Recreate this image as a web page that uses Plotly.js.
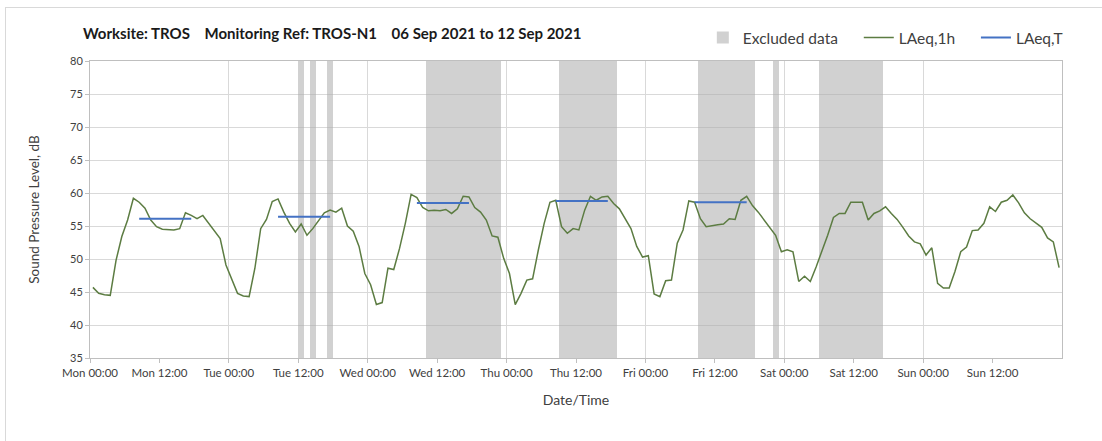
<!DOCTYPE html>
<html>
<head>
<meta charset="utf-8">
<script src="https://cdn.plot.ly/plotly-3.0.1.min.js"></script>
<style>
  body { margin: 0; background: #fff; }
  #wrap { position: relative; width: 1102px; height: 441px; }
  #chart { width: 1102px; height: 441px; }
  #frame { position: absolute; left: 5px; top: 7px; right: 0; bottom: 0;
           border-top: 1px solid #d9d9d9; border-left: 1px solid #d9d9d9; pointer-events: none; }
</style>
</head>
<body>
<div id="wrap">
  <div id="chart"></div>
  <div id="frame"></div>
</div>
<script>
// LAeq,1h hourly levels (dB), Mon 06 Sep 00:00 .. Sun 12 Sep 23:00
const laeq1h = [
    45.7, 44.8, 44.6, 44.5, 49.8, 53.4, 55.9, 59.2, 58.6, 57.7, 55.9, 54.9, 54.5, 54.5, 54.4, 54.6, 57.0, 56.6, 56.1, 56.6, 55.4, 54.2, 53.1, 49.1,
    46.8, 44.8, 44.4, 44.3, 48.6, 54.6, 56.0, 58.7, 59.1, 57.1, 55.4, 54.1, 55.3, 53.6, 54.6, 55.9, 57.0, 57.4, 57.1, 57.7, 55.0, 54.2, 51.9, 47.8,
    46.1, 43.1, 43.4, 48.6, 48.4, 51.6, 55.4, 59.8, 59.3, 57.8, 57.3, 57.4, 57.3, 57.5, 56.9, 57.6, 59.5, 59.4, 57.8, 57.1, 55.9, 53.5, 53.3, 50.1,
    47.8, 43.1, 44.8, 46.8, 47.0, 51.4, 55.4, 58.6, 58.9, 54.9, 53.9, 54.6, 54.4, 57.4, 59.5, 58.9, 59.4, 59.5, 58.4, 57.6, 56.1, 54.6, 51.9, 50.3,
    50.5, 44.7, 44.3, 46.7, 46.8, 52.4, 54.4, 58.8, 58.6, 56.1, 54.9, 55.1, 55.2, 55.3, 56.1, 56.0, 58.9, 59.5, 58.1, 57.1, 55.9, 54.8, 53.6, 51.1,
    51.4, 51.1, 46.6, 47.4, 46.6, 48.8, 51.1, 53.6, 56.3, 56.9, 56.9, 58.6, 58.6, 58.6, 55.9, 56.9, 57.3, 57.9, 56.9, 56.0, 54.8, 53.5, 52.6, 52.3,
    50.6, 51.7, 46.3, 45.6, 45.6, 48.1, 51.1, 51.8, 54.3, 54.4, 55.4, 57.9, 57.2, 58.6, 58.9, 59.7, 58.5, 57.0, 56.1, 55.5, 54.8, 53.2, 52.6, 48.7
];

// LAeq,T over the working day (08:00-18:00), Mon..Fri
const laeqTStart = ["2021-09-06 08:30", "2021-09-07 08:30", "2021-09-08 08:30", "2021-09-09 08:30", "2021-09-10 08:30"];
const laeqTEnd   = ["2021-09-06 17:30", "2021-09-07 17:30", "2021-09-08 17:30", "2021-09-09 17:30", "2021-09-10 17:30"];
const laeqT      = [56.1, 56.4, 58.5, 58.8, 58.6];

// excluded periods
const excludedStart = ["2021-09-07 12:00", "2021-09-07 14:00", "2021-09-07 17:00", "2021-09-08 10:00",
                       "2021-09-09 09:00", "2021-09-10 09:00", "2021-09-10 22:00", "2021-09-11 06:00"];
const excludedEnd   = ["2021-09-07 13:00", "2021-09-07 15:00", "2021-09-07 18:00", "2021-09-08 23:00",
                       "2021-09-09 19:00", "2021-09-10 19:00", "2021-09-10 23:00", "2021-09-11 17:00"];

const yMin = 35, yMax = 80;
const startDay = Date.UTC(2021, 8, 6);
const halfDayTicks = 14; // Mon 00:00 .. Sun 12:00

function toMs(s) { return Date.parse(s.replace(" ", "T") + ":00Z"); }
function fmt(ms) { return new Date(ms).toISOString().slice(0, 16).replace("T", " "); }

// hourly periods are plotted at mid-hour
const hourTimes = laeq1h.map((v, i) => fmt(startDay + (i * 60 + 30) * 60000));

const exMid = excludedStart.map((s, i) => fmt((toMs(s) + toMs(excludedEnd[i])) / 2));
const exWidth = excludedStart.map((s, i) => toMs(excludedEnd[i]) - toMs(s));

let tx = [], ty = [];
laeqT.forEach((v, i) => {
    tx.push(laeqTStart[i], laeqTEnd[i], null);
    ty.push(v, v, null);
});

let tickVals = [];
for (let i = 0; i < halfDayTicks; i++) tickVals.push(fmt(startDay + i * 43200000));

const font = "Lato, 'Open Sans', sans-serif";
const xRange = ["2021-09-06 00:00", "2021-09-13 00:00"];
const sp = "\u00A0";

const data = [
    {
        type: "bar",
        name: "Excluded data" + sp.repeat(4),
        x: exMid,
        y: exMid.map(() => yMax - yMin),
        base: yMin,
        width: exWidth,
        marker: { color: "rgba(172,172,172,0.55)", line: { width: 0 } },
        hoverinfo: "skip",
    },
    {
        type: "scatter",
        mode: "lines",
        name: "LAeq,1h" + sp.repeat(4),
        x: hourTimes,
        y: laeq1h,
        line: { color: "#5c7c42", width: 1.5 },
    },
    {
        type: "scatter",
        mode: "lines",
        name: "LAeq,T",
        x: tx,
        y: ty,
        xaxis: "x2",
        connectgaps: false,
        line: { color: "#4472c4", width: 2 },
    },
];

const layout = {
    width: 1102,
    height: 441,
    margin: { l: 90, r: 40, t: 61, b: 83 },
    paper_bgcolor: "#fff",
    plot_bgcolor: "#fff",
    font: { family: font, color: "#404040", size: 11 },
    showlegend: true,
    title: {
        text: "Worksite: TROS" + sp.repeat(4) + "Monitoring Ref: TROS-N1" + sp.repeat(4) + "06 Sep 2021 to 12 Sep 2021",
        font: { family: font, size: 15, color: "#1a1a1a", weight: "bold" },
        x: 0.0753, xref: "container", xanchor: "left",
        y: 0.923, yref: "container", yanchor: "middle",
    },
    legend: {
        orientation: "h",
        x: 1.006, xref: "paper", xanchor: "right",
        y: 0.914, yref: "container", yanchor: "middle",
        font: { family: font, size: 15.5, color: "#404040" },
        bgcolor: "rgba(0,0,0,0)",
    },
    bargap: 0,
    xaxis: {
        type: "date",
        range: xRange,
        tick0: "2021-09-06 00:00",
        dtick: 86400000,
        showticklabels: false,
        ticks: "",
        showgrid: true,
        gridcolor: "#d9d9d9",
        gridwidth: 1,
        showline: true,
        mirror: true,
        linecolor: "#bfbfbf",
        linewidth: 1,
        zeroline: false,
    },
    xaxis2: {
        type: "date",
        overlaying: "x",
        anchor: "y",
        side: "bottom",
        range: xRange,
        tickmode: "array",
        tickvals: tickVals,
        tickformat: "%a %H:%M",
        ticks: "outside",
        ticklen: 4,
        tickcolor: "#bfbfbf",
        tickfont: { family: font, size: 11.5, color: "#404040" },
        showgrid: false,
        showline: false,
        zeroline: false,
        title: { text: "Date/Time", font: { family: font, size: 14, color: "#404040" }, standoff: 17 },
    },
    yaxis: {
        range: [yMin, yMax],
        dtick: 5,
        ticks: "outside",
        ticklen: 4,
        tickcolor: "#bfbfbf",
        tickfont: { family: font, size: 11, color: "#404040" },
        showgrid: true,
        gridcolor: "#d9d9d9",
        showline: true,
        mirror: true,
        linecolor: "#bfbfbf",
        zeroline: false,
        title: { text: "Sound Pressure Level, dB", font: { family: font, size: 13.5, color: "#404040" }, standoff: 27 },
    },
};

Plotly.newPlot("chart", data, layout, { displayModeBar: false, staticPlot: true });
</script>
</body>
</html>
